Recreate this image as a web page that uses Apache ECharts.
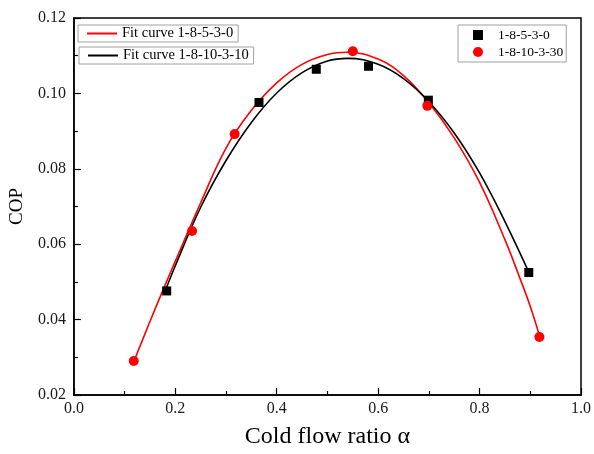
<!DOCTYPE html>
<html>
<head>
<meta charset="utf-8">
<script src="https://cdn.jsdelivr.net/npm/echarts@6/dist/echarts.min.js"></script>
<style>html,body{margin:0;padding:0;background:#fff}#c{width:594px;height:454px}</style>
</head>
<body>
<div id="c"></div>
<script>
// Measured points
const blackX = [0.183, 0.365, 0.478, 0.581, 0.699, 0.897];
const blackY = [0.0476, 0.0976, 0.1064, 0.1072, 0.0982, 0.0525];
const redX = [0.118, 0.233, 0.317, 0.550, 0.697, 0.918];
const redY = [0.0290, 0.0635, 0.0892, 0.1112, 0.0967, 0.0354];
// Fit curves
const fitRedX = [0.118, 0.15, 0.18, 0.2, 0.25, 0.3, 0.35, 0.4, 0.45, 0.5, 0.54, 0.6, 0.65, 0.7, 0.75, 0.8, 0.85, 0.88, 0.9, 0.918];
const fitRedY = [0.0288, 0.0395, 0.0492, 0.0555, 0.0710, 0.0855, 0.0955, 0.1028, 0.1077, 0.1103, 0.1109, 0.1091, 0.1047, 0.0975, 0.0882, 0.0764, 0.0612, 0.0508, 0.0435, 0.0358];
const fitBlackX = [0.18, 0.2, 0.25, 0.3, 0.35, 0.4, 0.45, 0.5, 0.54, 0.6, 0.65, 0.7, 0.75, 0.8, 0.85, 0.897];
const fitBlackY = [0.0476, 0.0543, 0.0698, 0.0822, 0.0923, 0.1001, 0.1055, 0.1086, 0.1093, 0.1077, 0.1039, 0.0978, 0.0895, 0.0789, 0.0660, 0.0526];
const xTicks = {min: 0, max: 1, interval: 0.2};
const yTicks = {min: 0.02, max: 0.12, interval: 0.02};
const names = ['Fit curve 1-8-5-3-0', 'Fit curve 1-8-10-3-10', '1-8-5-3-0', '1-8-10-3-30'];

const zip = (xs, ys) => xs.map((x, i) => [x, ys[i]]);
const font = 'Liberation Serif';
const axisCommon = {
  axisLine: {show: true, lineStyle: {color: '#000', width: 1.5}},
  axisTick: {show: true, inside: true, length: 7, lineStyle: {color: '#000', width: 1.2}},
  minorTick: {show: true, splitNumber: 2, length: 4, lineStyle: {color: '#000', width: 1.2}},
  splitLine: {show: false},
  axisLabel: {color: '#1a1a1a', fontFamily: font, fontSize: 16},
  nameLocation: 'middle'
};
const lineLegend = (name, left, top) => ({
  data: [{name: name, icon: 'rect'}], left: left, top: top, padding: [1, 5, 1, 9],
  itemWidth: 30, itemHeight: 2, borderColor: '#a0a0a0', borderWidth: 1,
  textStyle: {fontFamily: font, fontSize: 14.5, color: '#000'}
});
const chart = echarts.init(document.getElementById('c'), null, {renderer: 'canvas'});
chart.setOption({
  animation: false,
  backgroundColor: '#fff',
  grid: {left: 70, right: 9, top: 18, bottom: 56, show: true, borderColor: '#000', borderWidth: 1.5, backgroundColor: 'transparent'},
  xAxis: Object.assign({}, axisCommon, {
    type: 'value', min: xTicks.min, max: xTicks.max, interval: xTicks.interval,
    name: 'Cold flow ratio α', nameGap: 30,
    nameTextStyle: {color: '#000', fontFamily: font, fontSize: 24},
    axisLabel: Object.assign({}, axisCommon.axisLabel, {margin: 6, formatter: v => v.toFixed(1)})
  }),
  yAxis: Object.assign({}, axisCommon, {
    type: 'value', min: yTicks.min, max: yTicks.max, interval: yTicks.interval,
    name: 'COP', nameGap: 33,
    nameTextStyle: {color: '#000', fontFamily: font, fontSize: 19},
    axisLabel: Object.assign({}, axisCommon.axisLabel, {margin: 8, formatter: v => v.toFixed(2)})
  }),
  legend: [
    lineLegend(names[0], 78, 25),
    lineLegend(names[1], 79, 47),
    {data: [{name: names[2], icon: 'rect'}, {name: names[3], icon: 'circle'}], orient: 'vertical',
     left: 458, top: 25, padding: [3, 3, 3, 15], itemWidth: 10, itemHeight: 10, itemGap: 3,
     borderColor: '#a0a0a0', borderWidth: 1,
     textStyle: {fontFamily: font, fontSize: 13.5, color: '#000', padding: [0, 0, 0, 10]}}
  ],
  series: [
    {name: names[0], type: 'line', data: zip(fitRedX, fitRedY), smooth: 0.4, symbol: 'none',
     lineStyle: {color: '#ff0000', width: 1.6}, itemStyle: {color: '#ff0000'}, z: 2},
    {name: names[1], type: 'line', data: zip(fitBlackX, fitBlackY), smooth: 0.4, symbol: 'none',
     lineStyle: {color: '#000', width: 1.6}, itemStyle: {color: '#000'}, z: 2},
    {name: names[2], type: 'scatter', data: zip(blackX, blackY), symbol: 'rect', symbolSize: 9,
     itemStyle: {color: '#000', opacity: 1}, z: 3},
    {name: names[3], type: 'scatter', data: zip(redX, redY), symbol: 'circle', symbolSize: 10,
     itemStyle: {color: '#ff0000', opacity: 1}, z: 4}
  ]
});
</script>
</body>
</html>
